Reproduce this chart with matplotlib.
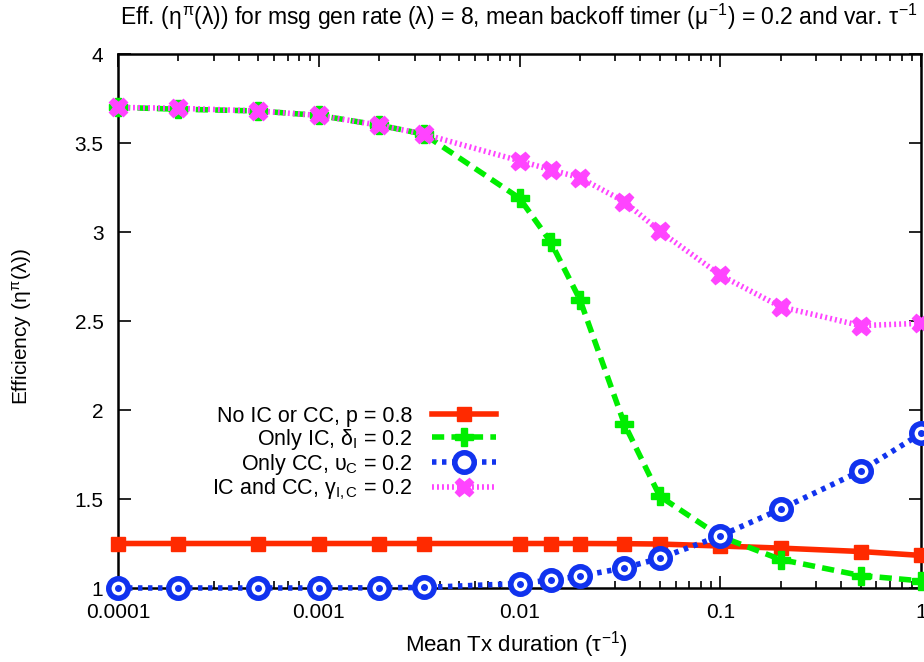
import numpy as np
import matplotlib.pyplot as plt
from matplotlib.ticker import LogLocator, FixedLocator, NullFormatter

plt.rcParams['font.family'] = ['Liberation Sans', 'DejaVu Sans']
plt.rcParams['mathtext.fontset'] = 'custom'
plt.rcParams['mathtext.rm'] = 'Liberation Sans'
plt.rcParams['mathtext.it'] = 'Liberation Sans'

# mean Tx duration (1/tau)
tx = [0.0001, 0.0002, 0.0005, 0.001, 0.002, 1/300, 0.01, 1/70, 0.02, 1/30,
      0.05, 0.1, 0.2, 0.5, 1.0]

eff_none = [1.25, 1.25, 1.25, 1.25, 1.25, 1.25, 1.25, 1.25, 1.25, 1.249,
            1.247, 1.236, 1.224, 1.205, 1.183]
eff_ic = [3.70, 3.69, 3.68, 3.655, 3.60, 3.55, 3.19, 2.945, 2.62, 1.92,
          1.515, 1.29, 1.16, 1.07, 1.04]
eff_cc = [1.0, 1.0, 1.0, 1.0, 1.001, 1.003, 1.025, 1.045, 1.067, 1.113,
          1.167, 1.293, 1.443, 1.657, 1.868]
eff_iccc = [3.70, 3.695, 3.68, 3.655, 3.60, 3.55, 3.40, 3.35, 3.305, 3.17,
            3.005, 2.758, 2.58, 2.474, 2.487]

labels = ['No IC or CC, p = 0.8',
          r'Only IC, $\delta_\mathrm{I}$ = 0.2',
          r'Only CC, $\upsilon_\mathrm{C}$ = 0.2',
          r'IC and CC, $\gamma_\mathrm{I,C}$ = 0.2']

fig = plt.figure(figsize=(9.24, 6.62), dpi=100)
ax = fig.add_axes([118/924, 1 - 588/662, (921 - 118)/924, (588 - 54)/662])

ax.plot(tx, eff_none, color='#ff2a00', lw=4, marker='s', ms=10.5,
        label=labels[0], clip_on=False, zorder=3)
ax.plot(tx, eff_ic, color='#00ee00', lw=4, ls=(0, (2.2, 1.3)), marker='P',
        ms=12.5, mec='#00ee00', label=labels[1], clip_on=False, zorder=4)
ax.plot(tx, eff_cc, color='#1133ee', lw=4, ls=(0, (0.8, 1.0)), marker='o',
        ms=14, mfc='white', mec='#1133ee', mew=4, label=labels[2],
        clip_on=False, zorder=5)
ax.plot(tx, eff_cc, ls='none', marker='o', ms=4, color='#1133ee',
        clip_on=False, zorder=6)
ax.plot(tx, eff_iccc, color='#ff44ff', lw=4, ls=(0, (0.35, 0.55)),
        marker='X', ms=13.5, mec='#ff44ff', label=labels[3], clip_on=False,
        zorder=4)

ax.set_xscale('log')
ax.set_xlim(0.0001, 1)
ax.set_ylim(1, 4)
ax.xaxis.set_major_locator(FixedLocator([0.0001, 0.001, 0.01, 0.1, 1]))
ax.set_xticklabels(['0.0001', '0.001', '0.01', '0.1', '1'])
ax.xaxis.set_minor_locator(LogLocator(base=10, subs=np.arange(2, 10)))
ax.xaxis.set_minor_formatter(NullFormatter())
ax.set_yticks([1, 1.5, 2, 2.5, 3, 3.5, 4])
ax.set_yticklabels(['1', '1.5', '2', '2.5', '3', '3.5', '4'])
ax.tick_params(which='both', direction='in', top=True, right=True,
               labelsize=15, width=1.2, color='black')
ax.tick_params(which='major', length=9, pad=10.5)
ax.tick_params(which='minor', length=5)
for sp in ax.spines.values():
    sp.set_linewidth(1.8)

fig.text(405/924, 1 - 645/662, r'Mean Tx duration ($\tau^{-1}$)',
         fontsize=16, ha='left', va='center')
fig.text(22/924, 1 - 326/662, r'Efficiency ($\eta^{\pi}(\lambda)$)',
         fontsize=15, rotation=90, ha='center', va='center')
fig.text(120/924, 1 - 17/662,
         r'Eff. ($\eta^{\pi}(\lambda)$) for msg gen rate ($\lambda$) = 8, '
         r'mean backoff timer ($\mu^{-1}$) = 0.2 and var. $\tau^{-1}$',
         fontsize=16.5, ha='left', va='center')

ax.legend(loc='upper right', bbox_to_anchor=(507/924, 1 - 395/662),
          bbox_transform=fig.transFigure, frameon=False, markerfirst=False,
          fontsize=15.5, handlelength=3.0, labelspacing=0.0, borderpad=0,
          handletextpad=0.9)

fig.savefig('out.png', dpi=100)
